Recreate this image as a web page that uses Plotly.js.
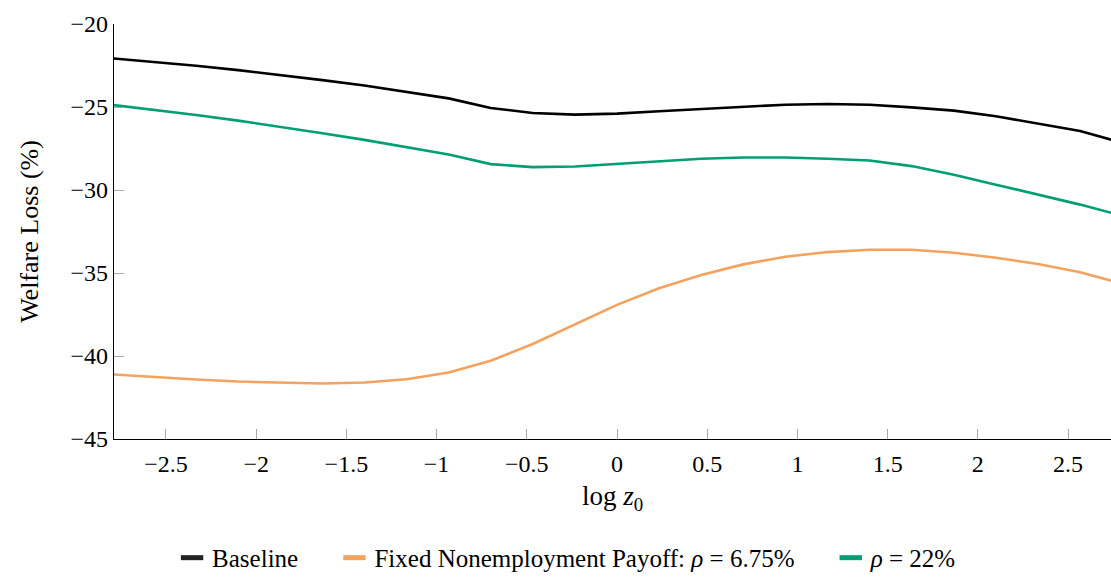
<!DOCTYPE html>
<html>
<head>
<meta charset="utf-8">
<script src="https://cdn.plot.ly/plotly-3.0.1.min.js"></script>
<style>
  html, body { margin: 0; padding: 0; background: #fff; }
  #chart { width: 1111px; height: 581px; }
</style>
</head>
<body>
<div id="chart"></div>
<script>
// log z0 grid
const logZ0 = [-2.8, -2.567, -2.333, -2.1, -1.867, -1.633, -1.4, -1.167, -0.933, -0.7, -0.467, -0.233,
               0, 0.233, 0.467, 0.7, 0.933, 1.167, 1.4, 1.633, 1.867, 2.1, 2.333, 2.567, 2.8];

// Welfare loss (%) by scenario
const baseline = [-22.07, -22.28, -22.52, -22.78, -23.06, -23.38, -23.70, -24.08, -24.48, -25.06, -25.36, -25.46,
                  -25.40, -25.26, -25.12, -24.96, -24.86, -24.82, -24.86, -25.02, -25.22, -25.56, -25.98, -26.44, -27.15];
const fixedPayoff = [-41.11, -41.27, -41.42, -41.54, -41.62, -41.66, -41.60, -41.40, -41.00, -40.28, -39.28, -38.08,
                     -36.92, -35.92, -35.12, -34.48, -34.02, -33.74, -33.60, -33.60, -33.78, -34.08, -34.46, -34.96, -35.64];
const rho22 = [-24.87, -25.16, -25.48, -25.82, -26.18, -26.58, -26.98, -27.40, -27.86, -28.44, -28.62, -28.58,
               -28.42, -28.26, -28.12, -28.04, -28.04, -28.12, -28.22, -28.56, -29.08, -29.68, -30.28, -30.88, -31.55];

const seriesNames = ['Baseline', 'Fixed Nonemployment Payoff: <i>ρ</i>\u00a0=\u00a06.75%', '<i>ρ</i>\u00a0=\u00a022%'];
const seriesData = [baseline, fixedPayoff, rho22];
const lineColors = ['#000000', '#f4a25e', '#009e73'];
const keyColors = ['#222222', '#f4a25e', '#009e73'];

const xTicks = [-2.5, -2, -1.5, -1, -0.5, 0, 0.5, 1, 1.5, 2, 2.5];
const yTicks = [-45, -40, -35, -30, -25, -20];

const fmt = v => (v < 0 ? '\u2212' : '') + Math.abs(v);

const traces = [];
seriesData.forEach((ys, i) => {
  traces.push({
    x: logZ0, y: ys, type: 'scatter', mode: 'lines',
    line: { color: lineColors[i], width: 2.6 },
    showlegend: false, hoverinfo: 'skip'
  });
});
// legend keys drawn as short bars
seriesNames.forEach((name, i) => {
  traces.push({
    x: [null], y: [null], type: 'scatter', mode: 'markers',
    name: name + '\u00a0\u00a0\u00a0\u00a0\u00a0',
    marker: { symbol: 'line-ew', size: 16, color: keyColors[i], line: { color: keyColors[i], width: 5 } }
  });
});

const serif = "'Liberation Serif', 'DejaVu Serif', serif";

const layout = {
  width: 1111, height: 581,
  margin: { l: 114, r: 0, t: 24, b: 142 },
  paper_bgcolor: '#ffffff', plot_bgcolor: '#ffffff',
  font: { family: serif, size: 20, color: '#000' },
  showlegend: true,
  legend: {
    orientation: 'h', x: 0.47, y: -0.342, xanchor: 'center', yanchor: 'bottom',
    font: { family: serif, size: 25, color: '#000' },
    itemwidth: 30, bgcolor: 'rgba(0,0,0,0)'
  },
  xaxis: {
    range: [-2.788, 2.738], automargin: false,
    tickvals: xTicks, ticktext: xTicks.map(fmt),
    ticks: 'inside', ticklen: 10, tickcolor: '#aaaaaa', tickwidth: 1,
    ticklabelstandoff: 3,
    showline: true, linecolor: '#000', linewidth: 1.2, mirror: false,
    showgrid: false, zeroline: false,
    tickfont: { family: serif, size: 24 },
    title: { text: 'log <i>z</i><sub>0</sub>', font: { family: serif, size: 27 }, standoff: 10 }
  },
  yaxis: {
    range: [-45, -20], automargin: false,
    tickvals: yTicks, ticktext: yTicks.map(fmt),
    ticks: 'inside', ticklen: 10, tickcolor: '#aaaaaa', tickwidth: 1,
    showline: true, linecolor: '#000', linewidth: 1.2, mirror: false,
    showgrid: false, zeroline: false,
    tickfont: { family: serif, size: 24 },
    title: { text: 'Welfare Loss (%)', font: { family: serif, size: 26 }, standoff: 24 }
  }
};

Plotly.newPlot('chart', traces, layout, { displayModeBar: false, staticPlot: true });
</script>
</body>
</html>
